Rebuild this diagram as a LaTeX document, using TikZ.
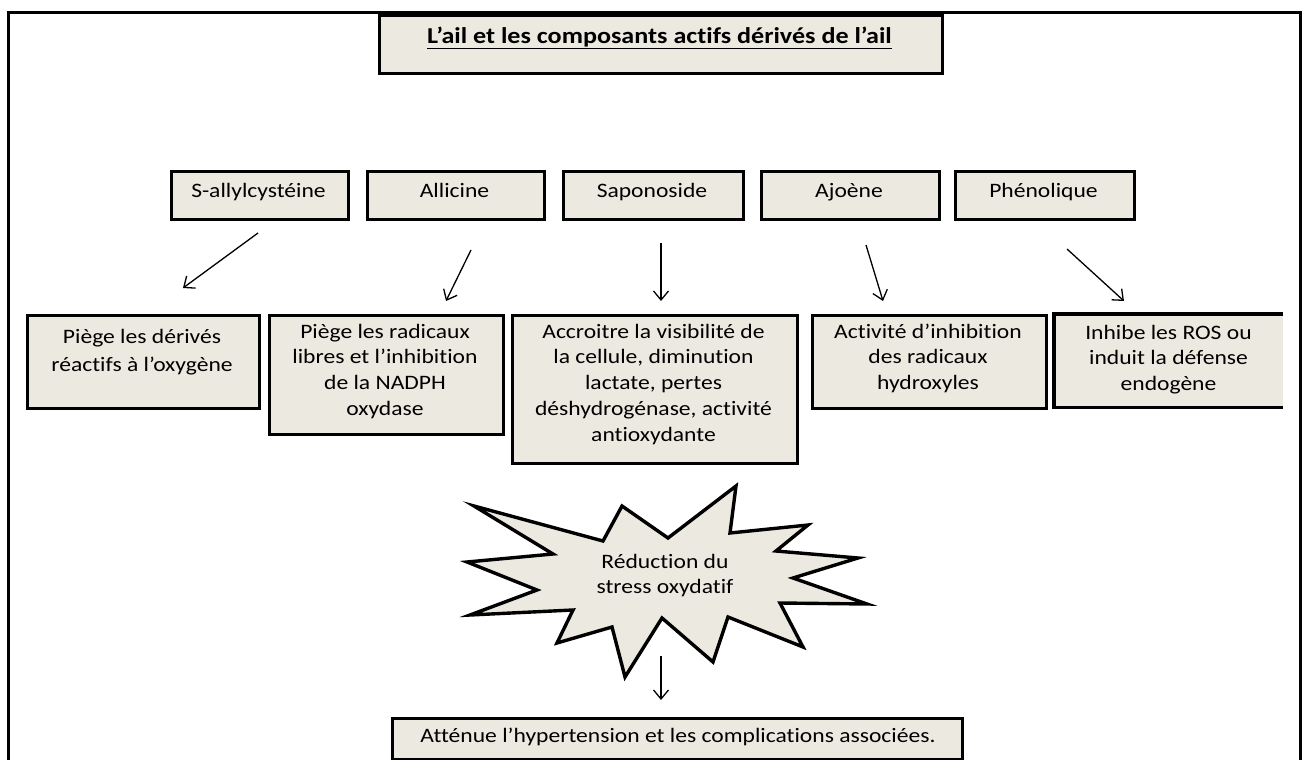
\documentclass[tikz,border=0pt]{standalone}
\usepackage{fontspec}
\setmainfont{Carlito}[FakeStretch=1.15, Ligatures=NoCommon]
\usetikzlibrary{arrows.meta}
\definecolor{boxfill}{RGB}{236,233,224}
% zero-width strut fixing the height of a first line
\newcommand\tstrut{\rule{0pt}{17pt}}
\begin{document}
\begin{tikzpicture}[x=1pt,y=-1pt,
  box/.style={rectangle, draw=black, line width=3.2pt, fill=boxfill,
    inner sep=0pt, anchor=north west},
  openbox/.style={rectangle, fill=boxfill, inner sep=0pt, anchor=north west},
  txt/.style={align=center, inner sep=0pt, anchor=north,
    font=\fontsize{20.5}{25.7}\selectfont},
  arr/.style={-{Straight Barb[length=9pt,width=15pt]}, line width=1.3pt},
  starshape/.style={draw=black, line width=3.4pt, fill=boxfill, line join=miter, miter limit=20}]
\useasboundingbox (0,0) rectangle (1304,760);

% outer frame
\draw[line width=3pt] (8,760) -- (8,13) -- (1300,13) -- (1300,760);

% title
\node[box, line width=3pt, minimum width=563pt, minimum height=58pt] (titlebox) at (378,14) {};
\node[anchor=base, inner sep=0pt, font=\bfseries\fontsize{22.7}{27}\selectfont] (title)
  at (659.5,44) {L’ail et les composants actifs dérivés de l’ail};
\draw[line width=1.8pt] ([yshift=-4.5pt]title.base west) -- ([yshift=-4.5pt]title.base east);

% compounds
\node[box, minimum width=177pt, minimum height=48pt] (c1) at (170,170) {};
\node[box, minimum width=177pt, minimum height=48pt] (c2) at (366,170) {};
\node[box, minimum width=180pt, minimum height=48pt] (c3) at (562,170) {};
\node[box, minimum width=178pt, minimum height=48pt] (c4) at (760,170) {};
\node[box, minimum width=179pt, minimum height=48pt] (c5) at (954,170) {};
\node[txt] (c1t) at (258.5,180) {\tstrut S-allylcystéine};
\node[txt] (c2t) at (454.5,180) {\tstrut Allicine};
\node[txt] (c3t) at (652,180) {\tstrut Saponoside};
\node[txt] (c4t) at (849,180) {\tstrut Ajoène};
\node[txt] (c5t) at (1043.5,180) {\tstrut Phénolique};

% effects
\node[box, minimum width=232pt, minimum height=93pt] (e1) at (26,314) {};
\node[box, minimum width=234pt, minimum height=119pt] (e2) at (268,314) {};
\node[box, minimum width=285pt, minimum height=148pt] (e3) at (511,314) {};
\node[box, minimum width=234pt, minimum height=93pt] (e4) at (811,314) {};
\node[openbox, minimum width=229pt, minimum height=93pt] (e5) at (1054,314) {};
\draw[line width=3.2pt] (e5.north east) -- (e5.north west) -- (e5.south west) -- (e5.south east);

\node[txt, font=\fontsize{20.5}{28}\selectfont] (e1t) at (142,326)
  {\tstrut Piège les dérivés\\réactifs à l’oxygène};
\node[txt] (e2t) at (385,321)
  {\tstrut Piège les radicaux\\libres et l’inhibition\\de la NADPH\\oxydase};
\node[txt] (e3t) at (653.5,321)
  {\tstrut Accroitre la visibilité de\\la cellule, diminution\\lactate, pertes\\déshydrogénase, activité\\antioxydante};
\node[txt] (e4t) at (928,321)
  {\tstrut Activité d’inhibition\\des radicaux\\hydroxyles};
\node[txt] (e5t) at (1168.5,322)
  {\tstrut Inhibe les ROS ou\\induit la défense\\endogène};

% arrows from compounds to effects
\coordinate (a1s) at (258,233);  \coordinate (a1e) at (183,288);
\coordinate (a2s) at (471,250);  \coordinate (a2e) at (446,301);
\coordinate (a3s) at (661,243);  \coordinate (a3e) at (661,301);
\coordinate (a4s) at (866,245);  \coordinate (a4e) at (883,301);
\coordinate (a5s) at (1067,249); \coordinate (a5e) at (1124,301);
\draw[arr] (a1s) -- (a1e);
\draw[arr] (a2s) -- (a2e);
\draw[arr] (a3s) -- (a3e);
\draw[arr] (a4s) -- (a4e);
\draw[arr] (a5s) -- (a5e);

% starburst
\draw[starshape] (474,506) -- (603,541) -- (622,506) -- (668,538) -- (736,486)
  -- (730,533) -- (808,525) -- (776,551) -- (858,558) -- (793,578) -- (867,604)
  -- (780,603) -- (803,647) -- (728,617) -- (713,662) -- (662,618) -- (625,677)
  -- (612,627) -- (557,643) -- (573,610) -- (470,615) -- (537,590) -- (467,562)
  -- (553,554) -- cycle;
\node[txt] (stress) at (665,551) {\tstrut Réduction du\\stress oxydatif};

% outcome
\coordinate (a6s) at (661,656); \coordinate (a6e) at (661,700);
\draw[arr] (a6s) -- (a6e);
\node[box, minimum width=570pt, minimum height=41pt] (out) at (391,717) {};
\node[txt] (outt) at (678,725) {\tstrut Atténue l’hypertension et les complications associées.};
\end{tikzpicture}
\end{document}
